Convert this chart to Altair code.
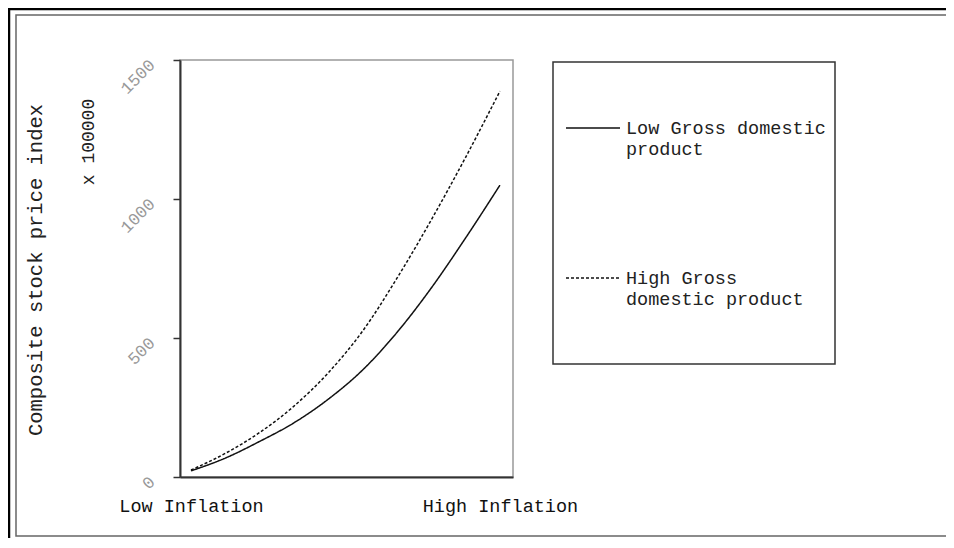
import altair as alt
import pandas as pd

# ---- data ----
inflation = [1, 2, 3, 4, 5, 6, 7, 8, 9, 10]
low_gdp = [22, 68, 128, 195, 280, 385, 520, 680, 860, 1050]
high_gdp = [25, 85, 160, 255, 375, 525, 715, 925, 1150, 1388]
series_names = ["Low Gross domestic product", "High Gross domestic product"]
x_tick_values = [1, 10]
x_tick_labels = ["Low Inflation", "High Inflation"]
y_ticks = [0, 500, 1000, 1500]
y_title = "Composite stock price index"
unit_note = ["x 100000"]

FONT = "Liberation Mono"

df = pd.DataFrame(
    {
        "inflation": inflation * 2,
        "value": low_gdp + high_gdp,
        "series": [series_names[0]] * len(inflation) + [series_names[1]] * len(inflation),
    }
)

W, H = 333, 417

label_expr = (
    f"datum.value == {x_tick_values[0]} ? '{x_tick_labels[0]}' : '{x_tick_labels[1]}'"
)
legend_expr = (
    "datum.label == 'Low Gross domestic product' ? ['Low Gross domestic', 'product'] "
    ": ['High Gross', 'domestic product']"
)

lines = (
    alt.Chart(df)
    .mark_line(interpolate="monotone", color="#111", strokeWidth=1.5)
    .encode(
        x=alt.X(
            "inflation:Q",
            scale=alt.Scale(domain=[0.68, 10.38], nice=False, zero=False),
            axis=alt.Axis(
                values=x_tick_values,
                labelExpr=label_expr,
                ticks=False,
                tickSize=0,
                grid=False,
                domainColor="#333",
                domainWidth=2,
                labelFont=FONT,
                labelFontSize=18.5,
                labelColor="#111",
                labelBaseline="middle",
                labelPadding=28,
                labelFlush=False,
                labelOverlap=False,
                title=None,
            ),
        ),
        y=alt.Y(
            "value:Q",
            scale=alt.Scale(domain=[0, 1500], nice=False),
            axis=alt.Axis(
                values=y_ticks,
                format="d",
                grid=False,
                tickSize=7,
                tickColor="#333",
                tickWidth=1.5,
                domainColor="#333",
                domainWidth=2,
                labelFont=FONT,
                labelFontSize=17,
                labelColor="#999",
                labelAngle=-45,
                labelAlign="right",
                labelBaseline="middle",
                labelPadding=21,
                labelOffset=2,
                title=y_title,
                titleFont=FONT,
                titleFontSize=20.5,
                titleFontWeight="normal",
                titleColor="#222",
                titleAngle=270,
                titleAlign="center",
                titleBaseline="middle",
                titleX=-145,
                titleY=209.5,
            ),
        ),
        strokeDash=alt.StrokeDash(
            "series:N",
            scale=alt.Scale(domain=series_names, range=[[1, 0], [3, 2]]),
            legend=alt.Legend(
                orient="none",
                legendX=385,
                legendY=40,
                title=None,
                padding=0,
                symbolType="stroke",
                symbolSize=2916,
                symbolStrokeWidth=1.5,
                symbolStrokeColor="#111",
                labelFont=FONT,
                labelFontSize=18.5,
                labelColor="#222",
                labelOffset=5,
                labelLimit=400,
                labelExpr=legend_expr,
                rowPadding=92,
            ),
        ),
    )
)

note = (
    alt.Chart(pd.DataFrame({"t": unit_note}))
    .mark_text(angle=270, font=FONT, fontSize=18, color="#222", align="center", baseline="middle")
    .encode(text="t:N", x=alt.value(-91), y=alt.value(82))
)

# decorative frames (outer black, inner gray, legend box)
outer = (
    alt.Chart(pd.DataFrame({"k": [0]}))
    .mark_rect(fill=None, stroke="#000", strokeWidth=2.5)
    .encode(x=alt.value(-171), x2=alt.value(1000), y=alt.value(-51), y2=alt.value(1000))
)
inner = (
    alt.Chart(pd.DataFrame({"k": [0]}))
    .mark_rect(fill=None, stroke="#666", strokeWidth=1.5)
    .encode(x=alt.value(-164), x2=alt.value(1000), y=alt.value(-45), y2=alt.value(476))
)
legend_box = (
    alt.Chart(pd.DataFrame({"k": [0]}))
    .mark_rect(fill=None, stroke="#333", strokeWidth=1.5)
    .encode(x=alt.value(373), x2=alt.value(655), y=alt.value(2), y2=alt.value(304))
)

chart = (
    alt.layer(outer, inner, legend_box, lines, note)
    .properties(
        width=W,
        height=H,
        padding={"left": 172, "top": 52, "right": 433, "bottom": 61},
        autosize=alt.AutoSizeParams(type="none"),
        background="white",
    )
    .configure_view(stroke="#999", strokeWidth=1.5)
)

chart.save("out.html", embed_options={"renderer": "svg", "actions": False})
